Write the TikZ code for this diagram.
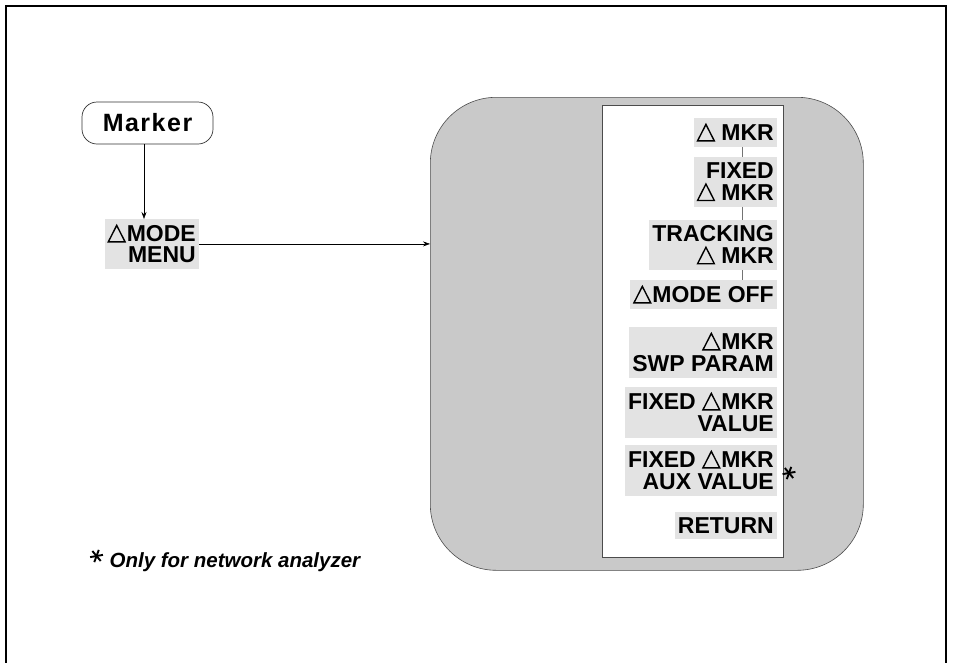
\documentclass[tikz,border=0pt]{standalone}
\usepackage{fontspec}
\setmainfont{Liberation Sans}
\usetikzlibrary{arrows.meta}
\newcommand\tri{\tikz[baseline=0pt]\draw[line width=1.4pt,line join=miter] (0.6pt,0pt)--(17.4pt,0pt)--(9pt,16.5pt)--cycle;}
\newcommand\astk[2][0]{\tikz[baseline=#2,line width=1.9pt,line cap=butt]{\draw (#1:-6.5pt) -- (#1:6.5pt);
  \draw (60+#1:-6.5pt) -- (60+#1:6.5pt); \draw (120+#1:-6.5pt) -- (120+#1:6.5pt);}}
\tikzset{
  lbl/.style={fill=black!11, align=right, anchor=north east, inner xsep=3pt, inner ysep=5.5pt,
    font=\fontsize{23}{22}\selectfont\bfseries},
  tie/.style={draw=black!55, line width=0.8pt},
  arr/.style={line width=0.6pt, -{Stealth[length=7pt,width=5pt]}},
}
\begin{document}
\begin{tikzpicture}[x=1pt,y=-1pt]
\useasboundingbox (0,0) rectangle (953,662);
% outer frame (open at bottom)
\draw[line width=2pt] (6,668) -- (6,6) -- (946,6) -- (946,668);
% big grey rounded box
\node[draw=black!70, fill=black!21, line width=0.6pt, rounded corners=66pt, inner sep=0pt,
  minimum width=433pt, minimum height=473pt, anchor=north west] (big) at (430,97) {};
% white panel
\node[draw=black!70, fill=white, line width=0.6pt, inner sep=0pt,
  minimum width=181pt, minimum height=452pt, anchor=north west] (panel) at (602,105) {};
% Marker key
\node[draw=black!80, fill=white, line width=0.7pt, rounded corners=15pt,
  minimum width=131pt, minimum height=42pt, inner sep=0pt,
  font=\fontsize{25}{25}\selectfont\bfseries\addfontfeatures{LetterSpace=6}] (marker) at (147.5,123) {Marker};
% Delta MODE MENU
\node[lbl, font=\fontsize{23}{21}\selectfont\bfseries] (mm) at (199,219) {\tri\hspace{1pt}MODE\\MENU};
\coordinate (ax) at (144,0);
\draw[arr] (marker.south -| ax) -- (mm.north -| ax);
\draw[arr] (mm.east) -- (mm.east -| big.west);
% menu labels
\node[lbl] (l1) at (777,118) {\tri\ MKR};
\node[lbl] (l2) at (777,157) {FIXED\\\tri\ MKR};
\node[lbl] (l3) at (777,220) {TRACKING\\\tri\ MKR};
\node[lbl] (l4) at (777,280) {\tri\hspace{1pt}MODE OFF};
\node[lbl] (l5) at (777,327) {\tri\hspace{1pt}MKR\\SWP PARAM};
\node[lbl] (l6) at (777,387) {FIXED \tri\hspace{1pt}MKR\\VALUE};
\node[lbl] (l7) at (777,445) {FIXED \tri\hspace{1pt}MKR\\AUX VALUE};
\node[lbl] (l8) at (777,512) {RETURN};
\coordinate (tx) at (742,0);
\draw[tie] (l1.south -| tx) -- (l2.north -| tx);
\draw[tie] (l2.south -| tx) -- (l3.north -| tx);
\draw[tie] (l3.south -| tx) -- (l4.north -| tx);
% asterisk
\node[inner sep=0pt] (ast) at (789,473) {\astk[10]{0pt}};
% footnote
\node[anchor=base west, inner sep=0pt, font=\fontsize{20.5}{20}\selectfont\bfseries\itshape] (foot) at (89,567)
  {\astk[10]{-11pt}\ Only for network analyzer};
\end{tikzpicture}
\end{document}
